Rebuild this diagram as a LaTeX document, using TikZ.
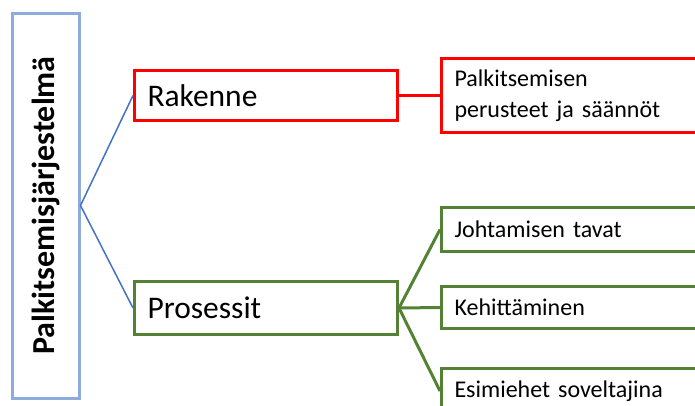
\documentclass[tikz,border=0pt]{standalone}
\usepackage{fontspec}
\setmainfont{Carlito}
\usetikzlibrary{positioning}
\definecolor{punainen}{HTML}{FF0000}
\definecolor{vihrea}{HTML}{548235}
\definecolor{reuna}{HTML}{8FAADC}
\definecolor{viiva}{HTML}{4472C4}
\tikzset{iso/.style={font=\fontsize{31.5}{34}\selectfont}}
\tikzset{pieni/.style={font=\fontsize{24}{31}\selectfont}}
\tikzset{laatikko/.style={draw, line width=3pt, fill=white, anchor=north west, inner xsep=13pt, inner ysep=0pt, align=left}}

\begin{document}
\begin{tikzpicture}[x=1pt,y=-1pt]
        \useasboundingbox (0,0) rectangle (695,405);
        \clip (0,0) rectangle (695,405);
        % juuri
        \node (J) at (45.5,205.5) [draw=reuna, line width=3pt, rotate=90, minimum width=385pt, minimum height=67pt, font=\fontsize{32}{34}\selectfont\bfseries] {Palkitsemisjärjestelmä};
        % rakenne
        \node (R) at (133,69) [laatikko, draw=punainen, iso, text width=237pt, minimum height=50pt] {Rakenne};
        \node (RP) at (440,57) [laatikko, draw=punainen, pieni, text width=274pt, minimum height=74pt] {Palkitsemisen\\perusteet ja säännöt};
        % prosessit
        \node (P) at (133,280) [laatikko, draw=vihrea, iso, text width=237pt, minimum height=53pt] {Prosessit};
        \node (P1) at (440,206) [laatikko, draw=vihrea, pieni, text width=274pt, minimum height=44pt] {Johtamisen tavat};
        \node (P2) at (440,285) [laatikko, draw=vihrea, pieni, text width=274pt, minimum height=42pt] {Kehittäminen};
        \node (P3) at (440,367) [laatikko, draw=vihrea, pieni, text width=274pt, minimum height=45pt] {Esimiehet soveltajina};
        % viivat
        \draw [viiva, line width=1.5pt] (R.west) -- (J.south) -- (P.west);
        \draw [punainen, line width=3pt] (R.east) -- (RP.west);
        \draw [vihrea, line width=3pt] (P1.west) -- (P.east) -- (P3.west);
        \draw [vihrea, line width=3pt] (P.east) -- (P2.west);
\end{tikzpicture}
\end{document}
